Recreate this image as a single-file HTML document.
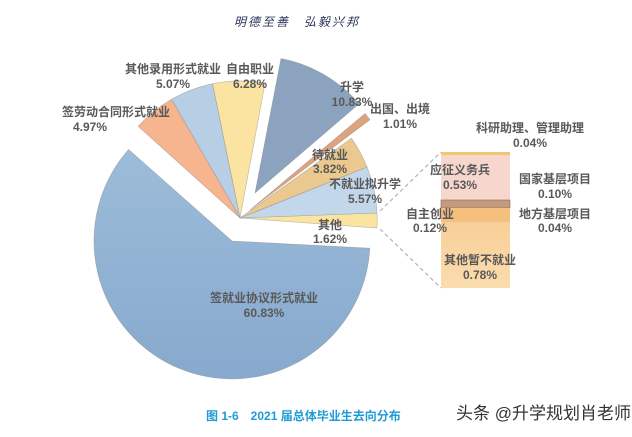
<!DOCTYPE html>
<html><head><meta charset="utf-8"><style>
html,body{margin:0;padding:0;background:#fff;}
svg{display:block;}
text{font-family:"Liberation Sans","Noto Sans CJK SC",sans-serif;}
</style></head><body>
<svg width="632" height="437" viewBox="0 0 632 437" xmlns="http://www.w3.org/2000/svg">
<defs>
<linearGradient id="gb" x1="0" y1="0" x2="0" y2="1"><stop offset="0" stop-color="#9dbcd9"/><stop offset="1" stop-color="#86a9cd"/></linearGradient>
<linearGradient id="go" x1="0" y1="0" x2="0" y2="1"><stop offset="0" stop-color="#f8cf98"/><stop offset="1" stop-color="#fbdcae"/></linearGradient>
</defs>
<text x="297" y="26" text-anchor="middle" font-family="'Noto Serif CJK SC',serif" font-size="12" font-style="italic" fill="#2a3558" letter-spacing="2">明德至善　弘毅兴邦</text>

<g stroke="#8a8a8a" stroke-width="0.6" stroke-opacity="0.6">
<path d="M232 241 L369.8 248.2 A138 138 0 1 1 128.6 149.5 Z" fill="url(#gb)"/>
<path d="M240 218 L377 213 A137 137 0 0 1 377 228 Z" fill="#fbe3a2"/>
<path d="M240 218 L367 167 A137 137 0 0 1 377 213 Z" fill="#c3d7ea"/>
<path d="M240 218 L351.4 138.3 A137 137 0 0 1 367 167 Z" fill="#ebc98e"/>
<path d="M250 210 L365 113.6 A150 150 0 0 1 370 119.7 Z" fill="#dea27c"/>
<path d="M255 193 L281 58.5 A137 137 0 0 1 359 103.8 Z" fill="#8ba3be"/>
<path d="M240 218 L212.5 83.8 A137 137 0 0 1 265 83.3 Z" fill="#fbe3a2"/>
<path d="M240 218 L171.5 99.4 A137 137 0 0 1 212.5 83.8 Z" fill="#b7cee4"/>
<path d="M240 218 L138.2 126.3 A137 137 0 0 1 171.5 99.4 Z" fill="#f6b58f"/>
</g>

<g stroke="#aab4c0" stroke-width="1.2" stroke-dasharray="4,3" fill="none">
<line x1="380" y1="211" x2="441" y2="152"/>
<line x1="380" y1="229" x2="441" y2="288"/>
</g>
<rect x="441" y="152" width="69" height="3" fill="#f3c56e"/>
<rect x="441" y="155" width="69" height="45" fill="#f6d6cd"/>
<rect x="441" y="200" width="69" height="8" fill="#c49a7c" stroke="#8a6a55" stroke-width="0.6"/>
<rect x="441" y="208" width="69" height="14" fill="#f5bf7e"/>
<rect x="441" y="222" width="69" height="66" fill="url(#go)"/>

<g font-size="12" font-weight="bold" fill="#595959" text-anchor="middle">
<text x="173" y="73">其他录用形式就业</text><text x="173" y="88">5.07%</text>
<text x="250" y="73">自由职业</text><text x="250" y="88">6.28%</text>
<text x="116" y="116">签劳动合同形式就业</text><text x="90" y="131">4.97%</text>
<text x="352" y="91">升学</text><text x="352" y="106">10.83%</text>
<text x="400" y="113">出国、出境</text><text x="400" y="128">1.01%</text>
<text x="330" y="159">待就业</text><text x="330" y="173">3.82%</text>
<text x="365" y="188">不就业拟升学</text><text x="365" y="203">5.57%</text>
<text x="330" y="229">其他</text><text x="330" y="243">1.62%</text>
<text x="264" y="302">签就业协议形式就业</text><text x="264" y="317">60.83%</text>
<text x="530" y="132">科研助理、管理助理</text><text x="530" y="147">0.04%</text>
<text x="460" y="174">应征义务兵</text><text x="460" y="189">0.53%</text>
<text x="555" y="183">国家基层项目</text><text x="555" y="198">0.10%</text>
<text x="430" y="218">自主创业</text><text x="430" y="232">0.12%</text>
<text x="555" y="218">地方基层项目</text><text x="555" y="232">0.04%</text>
<text x="480" y="264">其他暂不就业</text><text x="480" y="279">0.78%</text>
</g>

<text x="206" y="420" font-size="12" font-weight="bold" fill="#1f9bd6" font-family="'Liberation Serif','Noto Serif CJK SC',serif">图 1-6　2021 届总体毕业生去向分布</text>
<text x="456" y="419" font-size="17" fill="#333">头条 @升学规划肖老师</text>
</svg>
</body></html>
